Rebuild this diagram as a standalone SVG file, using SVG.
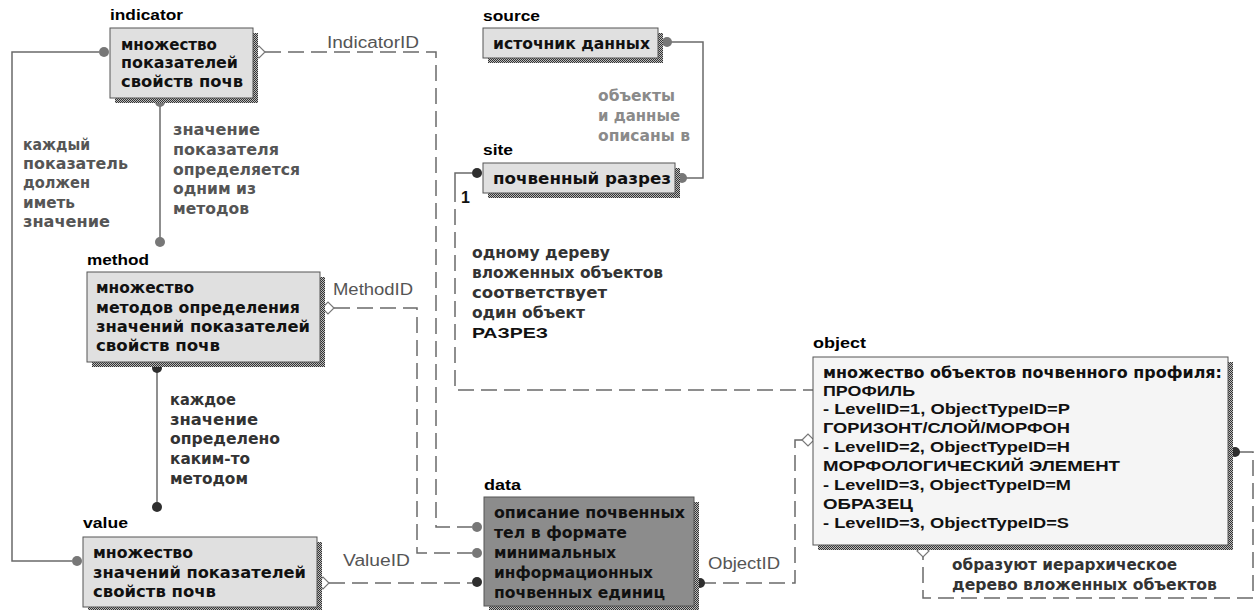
<svg xmlns="http://www.w3.org/2000/svg" width="1255" height="610" viewBox="0 0 1255 610">
<style>
.t{font-family:"DejaVu Sans",sans-serif;font-weight:bold;font-size:15px;fill:#111}
.g1{fill:#555}.g2{fill:#8a8a8a}.g3{fill:#333}
.a{font-family:"Liberation Sans",Arial,sans-serif;font-weight:bold;font-size:14px;fill:#111}
.ttl{font-family:"Liberation Sans",Arial,sans-serif;font-weight:bold;font-size:15px;fill:#000}
.lbl{font-family:"Liberation Sans",Arial,sans-serif;font-size:16px;fill:#555}
.box{fill:#e0e0e0;stroke:#555;stroke-width:1}
.sh{fill:url(#dither)}
.solid{fill:none;stroke:#6a6a6a;stroke-width:1.5}
.dash{fill:none;stroke:#6a6a6a;stroke-width:1.5;stroke-dasharray:16 7}
.d1{fill:#777}.d2{fill:#2e2e2e}
.dia{fill:#fff;stroke:#777;stroke-width:1.2}
</style>
<defs>
<pattern id="dither" width="2" height="2" patternUnits="userSpaceOnUse">
<rect width="2" height="2" fill="#bbb"/><rect width="1" height="1" fill="#333"/><rect x="1" y="1" width="1" height="1" fill="#333"/>
</pattern>
</defs>
<rect width="1255" height="610" fill="#fff"/>

<g id="connectors">
<path class="solid" d="M99 52 H12 V561 H72"/>
<path class="solid" d="M160 102 V242"/>
<path class="solid" d="M157 368 V507"/>
<path class="solid" d="M667 42 H703 V178 H685"/>
<path class="dash" d="M265 52 H436 V527 H472"/>
<path class="dash" d="M334 308 H417 V553 H472"/>
<path class="dash" d="M329 583 H472"/>
<path class="dash" d="M700 583 H795 V440 H802"/>
<path class="solid" d="M472 173 H455 V186"/>
<path class="dash" d="M455 186 V390 H813"/>
<path class="dash" d="M1238 452 H1253 V598 H923 V557"/>
<circle class="d1" cx="104" cy="52" r="5"/>
<circle class="d1" cx="160" cy="102" r="5"/>
<circle class="d1" cx="160" cy="242" r="5"/>
<circle class="d2" cx="157" cy="368" r="5"/>
<circle class="d2" cx="157" cy="507" r="5"/>
<circle class="d1" cx="77" cy="561" r="5"/>
<circle class="d1" cx="667" cy="42" r="5"/>
<circle class="d1" cx="682" cy="178" r="5"/>
<circle class="d2" cx="477" cy="173" r="5"/>
<circle class="d1" cx="477" cy="527" r="5"/>
<circle class="d1" cx="477" cy="553" r="5"/>
<circle class="d2" cx="477" cy="582" r="5"/>
<circle class="d2" cx="700" cy="583" r="5"/>
<circle class="d2" cx="1235" cy="452" r="5"/>
<path class="dia" d="M253 52 L259 46 L265 52 L259 58 Z"/>
<path class="dia" d="M322 308 L328 302 L334 308 L328 314 Z"/>
<path class="dia" d="M317 583 L323 577 L329 583 L323 589 Z"/>
<path class="dia" d="M802 440 L808 434 L814 440 L808 446 Z"/>
<path class="dia" d="M923 545 L929 551 L923 557 L917 551 Z"/>
<text class="lbl g2" x="327" y="48" textLength="92" lengthAdjust="spacingAndGlyphs">IndicatorID</text>
<text class="lbl" x="333" y="295" textLength="80" lengthAdjust="spacingAndGlyphs">MethodID</text>
<text class="lbl g3" x="343" y="566" textLength="67" lengthAdjust="spacingAndGlyphs">ValueID</text>
<text class="lbl g3" x="708" y="569" textLength="72" lengthAdjust="spacingAndGlyphs">ObjectID</text>
<text class="a" x="461" y="203" style="font-size:16px">1</text>
<g class="t g1">
<text x="23" y="150" textLength="67" lengthAdjust="spacingAndGlyphs">каждый</text>
<text x="23" y="169" textLength="105" lengthAdjust="spacingAndGlyphs">показатель</text>
<text x="23" y="188" textLength="67" lengthAdjust="spacingAndGlyphs">должен</text>
<text x="23" y="208" textLength="52" lengthAdjust="spacingAndGlyphs">иметь</text>
<text x="23" y="227" textLength="87" lengthAdjust="spacingAndGlyphs">значение</text>
<text x="173" y="135" textLength="87" lengthAdjust="spacingAndGlyphs">значение</text>
<text x="173" y="155" textLength="106" lengthAdjust="spacingAndGlyphs">показателя</text>
<text x="173" y="175" textLength="127" lengthAdjust="spacingAndGlyphs">определяется</text>
<text x="173" y="194" textLength="83" lengthAdjust="spacingAndGlyphs">одним из</text>
<text x="173" y="214" textLength="76" lengthAdjust="spacingAndGlyphs">методов</text>
</g>
<g class="t g3">
<text x="170" y="405" textLength="66" lengthAdjust="spacingAndGlyphs">каждое</text>
<text x="170" y="425" textLength="88" lengthAdjust="spacingAndGlyphs">значение</text>
<text x="170" y="444" textLength="110" lengthAdjust="spacingAndGlyphs">определено</text>
<text x="170" y="464" textLength="80" lengthAdjust="spacingAndGlyphs">каким-то</text>
<text x="170" y="484" textLength="78" lengthAdjust="spacingAndGlyphs">методом</text>
<text x="472" y="258" textLength="138" lengthAdjust="spacingAndGlyphs">одному дереву</text>
<text x="472" y="278" textLength="191" lengthAdjust="spacingAndGlyphs">вложенных объектов</text>
<text x="472" y="298" textLength="135" lengthAdjust="spacingAndGlyphs">соответствует</text>
<text x="472" y="318" textLength="113" lengthAdjust="spacingAndGlyphs">один объект</text>
<text x="952" y="570" textLength="225" lengthAdjust="spacingAndGlyphs">образуют иерархическое</text>
<text x="952" y="590" textLength="265" lengthAdjust="spacingAndGlyphs">дерево вложенных  объектов</text>
</g>
<text class="a g3" x="472" y="338" style="font-size:15px" textLength="76" lengthAdjust="spacingAndGlyphs">РАЗРЕЗ</text>
<g class="t g2">
<text x="598" y="101" textLength="77" lengthAdjust="spacingAndGlyphs">объекты</text>
<text x="598" y="121" textLength="82" lengthAdjust="spacingAndGlyphs">и данные</text>
<text x="598" y="141" textLength="92" lengthAdjust="spacingAndGlyphs">описаны в</text>
</g>
</g>

<g id="indicator">
<text class="ttl" x="110" y="20" textLength="73" lengthAdjust="spacingAndGlyphs">indicator</text>
<rect class="sh" x="115" y="33" width="143" height="70"/>
<rect class="box" x="110" y="28" width="143" height="70"/>
<text class="t" x="121" y="50" textLength="96" lengthAdjust="spacingAndGlyphs">множество</text>
<text class="t" x="121" y="68" textLength="117" lengthAdjust="spacingAndGlyphs">показателей</text>
<text class="t" x="121" y="87" textLength="122" lengthAdjust="spacingAndGlyphs">свойств почв</text>
</g>

<g id="source">
<text class="ttl" x="483" y="21" textLength="57" lengthAdjust="spacingAndGlyphs">source</text>
<rect class="sh" x="488" y="33" width="175" height="30"/>
<rect class="box" x="483" y="28" width="175" height="30"/>
<text class="t" x="493" y="49" textLength="157" lengthAdjust="spacingAndGlyphs">источник данных</text>
</g>

<g id="site">
<text class="ttl" x="483" y="155" textLength="30" lengthAdjust="spacingAndGlyphs">site</text>
<rect class="sh" x="488" y="168" width="192" height="30"/>
<rect class="box" x="483" y="163" width="192" height="30"/>
<text class="t" x="493" y="184" textLength="178" lengthAdjust="spacingAndGlyphs">почвенный разрез</text>
</g>

<g id="method">
<text class="ttl" x="87" y="265" textLength="62" lengthAdjust="spacingAndGlyphs">method</text>
<rect class="sh" x="92" y="277" width="233" height="90"/>
<rect class="box" x="87" y="272" width="233" height="90"/>
<text class="t" x="96" y="293" textLength="98" lengthAdjust="spacingAndGlyphs">множество</text>
<text class="t" x="96" y="313" textLength="204" lengthAdjust="spacingAndGlyphs">методов определения</text>
<text class="t" x="96" y="332" textLength="214" lengthAdjust="spacingAndGlyphs">значений показателей</text>
<text class="t" x="96" y="351" textLength="124" lengthAdjust="spacingAndGlyphs">свойств почв</text>
</g>

<g id="value">
<text class="ttl" x="83" y="528" textLength="45" lengthAdjust="spacingAndGlyphs">value</text>
<rect class="sh" x="88" y="542" width="234" height="70"/>
<rect class="box" x="83" y="537" width="234" height="70"/>
<text class="t" x="93" y="558" textLength="100" lengthAdjust="spacingAndGlyphs">множество</text>
<text class="t" x="93" y="578" textLength="213" lengthAdjust="spacingAndGlyphs">значений показателей</text>
<text class="t" x="93" y="597" textLength="123" lengthAdjust="spacingAndGlyphs">свойств почв</text>
</g>

<g id="data">
<text class="ttl" x="484" y="490" textLength="37" lengthAdjust="spacingAndGlyphs">data</text>
<rect class="sh" x="489" y="502" width="210" height="110"/>
<rect class="box" x="484" y="497" width="210" height="109" style="fill:#8c8c8c"/>
<text class="t" x="494" y="518" textLength="191" lengthAdjust="spacingAndGlyphs">описание почвенных</text>
<text class="t" x="494" y="538" textLength="133" lengthAdjust="spacingAndGlyphs">тел в формате</text>
<text class="t" x="494" y="558" textLength="122" lengthAdjust="spacingAndGlyphs">минимальных</text>
<text class="t" x="494" y="578" textLength="159" lengthAdjust="spacingAndGlyphs">информационных</text>
<text class="t" x="494" y="598" textLength="171" lengthAdjust="spacingAndGlyphs">почвенных единиц</text>
</g>

<g id="object">
<text class="ttl" x="813" y="348" textLength="53" lengthAdjust="spacingAndGlyphs">object</text>
<rect class="sh" x="818" y="362" width="415" height="188"/>
<rect class="box" x="813" y="357" width="415" height="188" style="fill:#f5f5f5"/>
<text class="t" x="823" y="378" textLength="399" lengthAdjust="spacingAndGlyphs">множество объектов почвенного профиля:</text>
<text class="a" x="823" y="396" textLength="92" lengthAdjust="spacingAndGlyphs">ПРОФИЛЬ</text>
<text class="a" x="823" y="414" textLength="247" lengthAdjust="spacingAndGlyphs">- LevelID=1, ObjectTypeID=P</text>
<text class="a" x="823" y="433" textLength="247" lengthAdjust="spacingAndGlyphs">ГОРИЗОНТ/СЛОЙ/МОРФОН</text>
<text class="a" x="823" y="452" textLength="247" lengthAdjust="spacingAndGlyphs">- LevelID=2, ObjectTypeID=H</text>
<text class="a" x="823" y="471" textLength="297" lengthAdjust="spacingAndGlyphs">МОРФОЛОГИЧЕСКИЙ ЭЛЕМЕНТ</text>
<text class="a" x="823" y="490" textLength="248" lengthAdjust="spacingAndGlyphs">- LevelID=3, ObjectTypeID=M</text>
<text class="a" x="823" y="509" textLength="90" lengthAdjust="spacingAndGlyphs">ОБРАЗЕЦ</text>
<text class="a" x="823" y="528" textLength="246" lengthAdjust="spacingAndGlyphs">- LevelID=3, ObjectTypeID=S</text>
</g>
</svg>
